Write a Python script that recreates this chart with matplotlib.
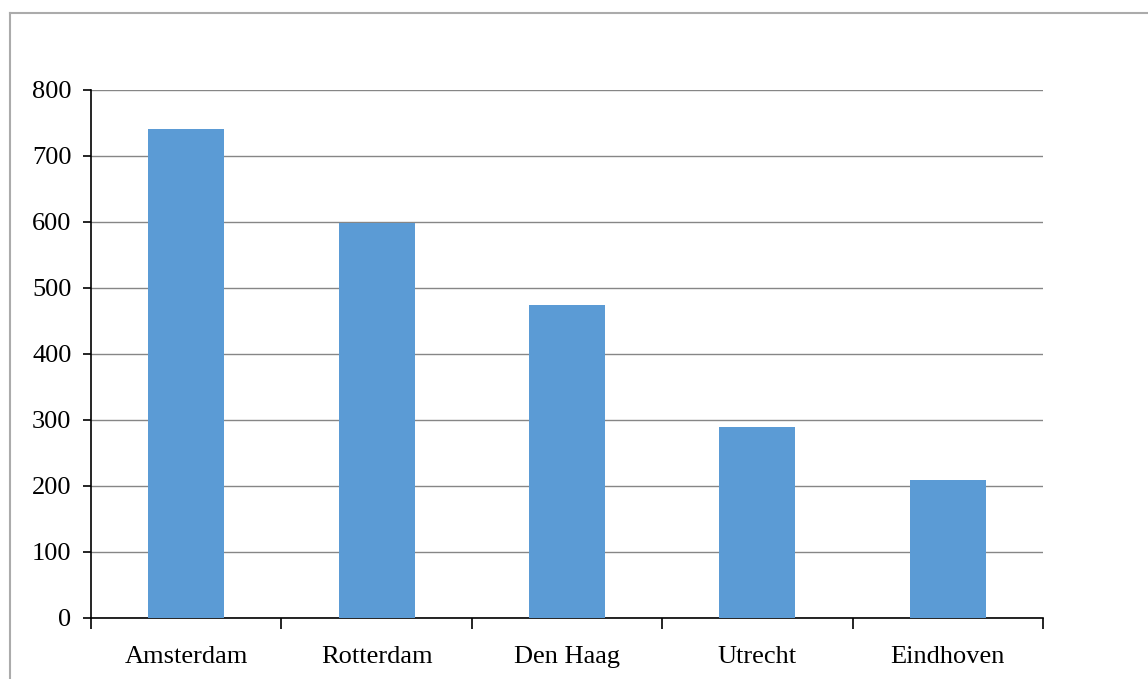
import matplotlib
matplotlib.use("Agg")
import matplotlib.pyplot as plt
from matplotlib.lines import Line2D

# gegevens uit de grafiek
steden = ["Amsterdam", "Rotterdam", "Den Haag", "Utrecht", "Eindhoven"]
waarden = [741, 598, 475, 290, 209]
y_ticks = [0, 100, 200, 300, 400, 500, 600, 700, 800]

plt.rcParams['font.family'] = ['Liberation Serif', 'DejaVu Serif']

fig = plt.figure(figsize=(11.48, 6.79), dpi=100)
ax = fig.add_axes([91 / 1148, 1 - 618 / 679, 952 / 1148, 528 / 679])

x = list(range(len(steden)))
ax.bar(x, waarden, width=0.4, color="#5B9BD5", zorder=3)

ax.set_xlim(-0.5, len(steden) - 0.5)
ax.set_ylim(0, 800)
ax.set_yticks(y_ticks)
ax.yaxis.grid(True, color="#868686", linewidth=1.0, zorder=0)

ax.set_xticks(x)
ax.set_xticklabels(steden, fontsize=19)
ax.set_xticks([i - 0.5 for i in range(len(steden) + 1)], minor=True)
ax.tick_params(axis="x", which="major", length=0, pad=20)
ax.tick_params(axis="x", which="minor", length=8, width=1.2, direction="out")
ax.tick_params(axis="y", length=6, width=1.2, labelsize=19, pad=8)

for s in ["top", "right"]:
    ax.spines[s].set_visible(False)
for s in ["left", "bottom"]:
    ax.spines[s].set_color("black")
    ax.spines[s].set_linewidth(1.2)

# rand rond de grafiek (boven en links)
fig.add_artist(Line2D([9.5 / 1148, 1.0], [1 - 12.5 / 679, 1 - 12.5 / 679],
                      transform=fig.transFigure, color="#ABABAB", linewidth=1.5))
fig.add_artist(Line2D([9.5 / 1148, 9.5 / 1148], [0.0, 1 - 12.5 / 679],
                      transform=fig.transFigure, color="#ABABAB", linewidth=1.5))

fig.savefig("out.png", dpi=100)
